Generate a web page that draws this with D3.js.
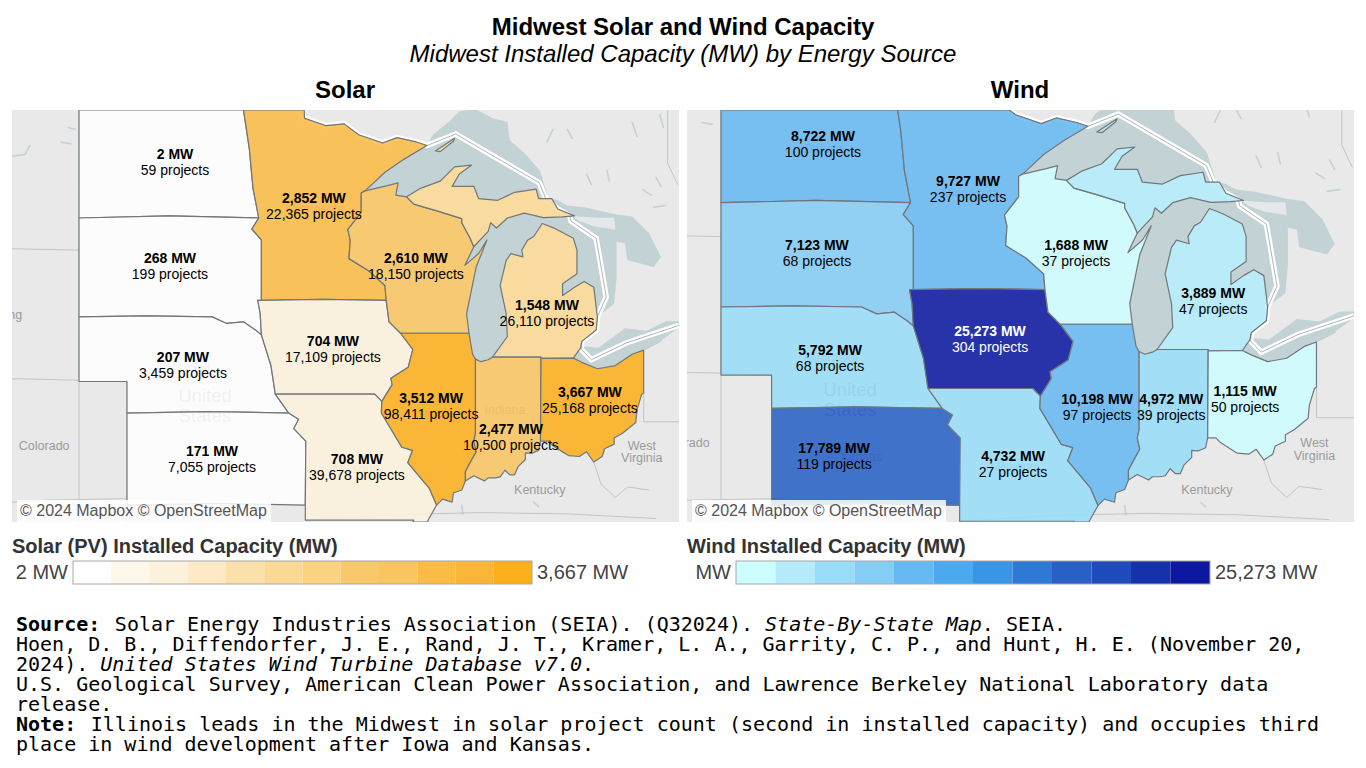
<!DOCTYPE html>
<html>
<head>
<meta charset="utf-8">
<script src="https://cdn.jsdelivr.net/npm/d3@7"></script>
<style>
  html, body { margin: 0; padding: 0; background: #fff; }
  svg { display: block; }
  text { font-family: "Liberation Sans", Arial, sans-serif; }
</style>
</head>
<body>
<svg id="chart" width="1366" height="768"></svg>
<script>
// values
const stateNames = ["North Dakota", "South Dakota", "Nebraska", "Kansas", "Minnesota", "Iowa", "Missouri", "Wisconsin", "Illinois", "Michigan", "Indiana", "Ohio"];
const solarMW = [2, 268, 207, 171, 2852, 704, 708, 2610, 3512, 1548, 2477, 3667];
const solarProjects = [59, 199, 3459, 7055, 22365, 17109, 39678, 18150, 98411, 26110, 10500, 25168];
const windMW = [8722, 7123, 5792, 17789, 9727, 25273, 4732, 1688, 10198, 3889, 4972, 1115];
const windProjects = [100, 68, 68, 119, 237, 304, 27, 37, 97, 47, 39, 50];

const solarColors = ["#ffffff", "#fdf8ea", "#fcf2dc", "#fde9c6", "#fce0aa", "#fbd995", "#fbd27f", "#f9c76c", "#f9c462", "#fbbb45", "#fbb638", "#fdaf1b"];
const windColors = ["#cdfdfe", "#b3ebfb", "#98dcf8", "#84cdf5", "#66b9f2", "#4ca8ef", "#3a95e5", "#2e79d4", "#2860c5", "#1f4cbd", "#1632ab", "#0c18a0"];

// label anchors, lon/lat, same order as stateNames
const solarLabelAt = [[-100.05,47.55],[-100.26,44.52],[-99.72,41.51],[-98.51,38.53],[-94.26,46.29],[-93.47,42.0],[-92.47,38.27],[-90.01,44.52],[-89.38,40.21],[-84.55,43.12],[-86.05,39.24],[-82.76,40.40]];
const windLabelAt = [[-100.02,47.54],[-100.26,44.55],[-99.74,41.51],[-99.58,38.55],[-94.29,46.32],[-93.42,42.07],[-92.51,38.30],[-90.02,44.55],[-89.19,40.05],[-84.60,43.16],[-86.26,40.05],[-83.34,40.29]];

// state outlines, lon/lat
const northDakota = [[-104.05,49.4],[-97.22,49.4],[-97.2,49],[-96.95,47.9],[-96.8,46.8],[-96.56,45.94],[-104.05,45.94]];
const southDakota = [[-104.05,45.94],[-96.56,45.94],[-96.85,45.62],[-96.45,45.3],[-96.45,43.5],[-96.6,43.5],[-96.5,43.1],[-96.45,42.45],[-96.7,42.6],[-97.2,42.85],[-97.9,42.8],[-98.5,43],[-104.05,43]];
const nebraska = [[-104.05,43],[-98.5,43],[-97.9,42.8],[-97.2,42.85],[-96.7,42.6],[-96.45,42.45],[-96.05,41.5],[-95.87,40.6],[-95.31,40],[-102.05,40],[-102.05,41],[-104.05,41]];
const kansas = [[-102.05,40],[-95.31,40],[-94.9,39.8],[-95.1,39.5],[-94.6,39.1],[-94.62,37],[-102.05,37]];
const minnesota = [[-97.22,49.4],[-94.7,49.4],[-94.65,48.75],[-93.75,48.55],[-93.0,48.6],[-92.4,48.3],[-91.4,48.07],[-90.8,48.22],[-90,48.1],[-89.55,48.0],[-90.5,47.62],[-91.3,47.25],[-92.13,46.72],[-92.29,46.66],[-92.29,46.1],[-92.85,45.6],[-92.75,45.3],[-92.8,44.75],[-92,44.4],[-91.3,43.95],[-91.25,43.5],[-96.45,43.5],[-96.45,45.3],[-96.85,45.62],[-96.56,45.94],[-96.8,46.8],[-96.95,47.9],[-97.2,49]];
const iowa = [[-96.6,43.5],[-91.25,43.5],[-91.13,42.85],[-90.65,42.5],[-90.14,42.0],[-90.33,41.45],[-91.05,41.1],[-91.0,40.9],[-91.43,40.37],[-91.73,40.6],[-95.87,40.6],[-96.05,41.5],[-96.45,42.45],[-96.5,43.1]];
const missouri = [[-95.87,40.6],[-91.73,40.6],[-91.43,40.37],[-91.45,40.0],[-90.6,38.9],[-90.15,38.8],[-90.35,38.4],[-89.45,37.55],[-89.15,37.0],[-89.5,36.5],[-89.7,36],[-90.37,36],[-90.1,36.5],[-94.62,36.5],[-94.62,37],[-94.6,39.1],[-95.1,39.5],[-94.9,39.8],[-95.31,40]];
const wisconsin = [[-92.13,46.72],[-91.2,46.87],[-90.75,46.95],[-90.85,46.6],[-90.4,46.55],[-90.1,46.34],[-89.1,46.14],[-88.1,45.92],[-88.1,45.8],[-87.75,45.35],[-87.6,45.1],[-87.97,44.55],[-87.4,44.9],[-87.05,45.3],[-87.5,44.5],[-87.7,43.8],[-87.9,43.1],[-87.8,42.5],[-90.65,42.5],[-91.13,42.85],[-91.25,43.5],[-91.3,43.95],[-92,44.4],[-92.8,44.75],[-92.75,45.3],[-92.85,45.6],[-92.29,46.1],[-92.29,46.66]];
const illinois = [[-90.65,42.5],[-87.8,42.5],[-87.65,41.85],[-87.53,41.7],[-87.53,39.35],[-87.6,39.1],[-87.5,38.75],[-87.75,38.4],[-87.95,38.1],[-87.95,37.8],[-88.1,37.5],[-88.45,37.4],[-88.5,37.1],[-88.9,37.2],[-89.15,37.0],[-89.45,37.55],[-90.35,38.4],[-90.15,38.8],[-90.6,38.9],[-91.45,40.0],[-91.43,40.37],[-91.0,40.9],[-91.05,41.1],[-90.33,41.45],[-90.14,42.0]];
const indiana = [[-87.53,41.7],[-87.3,41.62],[-87.0,41.68],[-86.82,41.76],[-84.8,41.76],[-84.82,39.1],[-84.9,38.8],[-85.2,38.7],[-85.45,38.72],[-85.45,38.5],[-85.75,38.27],[-85.9,38.0],[-86.1,38.0],[-86.3,38.15],[-86.5,37.93],[-86.7,37.9],[-87.0,37.9],[-87.15,37.8],[-87.6,37.97],[-87.95,37.8],[-87.95,38.1],[-87.75,38.4],[-87.5,38.75],[-87.6,39.1],[-87.53,39.35]];
const ohio = [[-84.8,41.72],[-83.45,41.73],[-83.1,41.6],[-82.45,41.4],[-81.7,41.5],[-81.0,41.85],[-80.52,41.98],[-80.52,40.64],[-80.6,40.6],[-80.8,40.1],[-80.85,39.7],[-81.4,39.35],[-81.75,39.2],[-81.75,39.0],[-82.15,38.85],[-82.25,38.6],[-82.6,38.42],[-82.9,38.75],[-83.2,38.6],[-83.65,38.63],[-83.9,38.75],[-84.3,38.95],[-84.5,39.1],[-84.82,39.1]];
const michiganLower = [[-86.82,41.76],[-84.8,41.76],[-84.8,41.72],[-83.45,41.73],[-83.15,42.05],[-83.1,42.25],[-82.5,42.6],[-82.45,43.0],[-82.6,43.9],[-83.0,44.07],[-83.4,43.9],[-83.9,43.65],[-83.9,44.0],[-83.3,44.3],[-83.3,45.0],[-83.45,45.35],[-84.2,45.63],[-84.75,45.78],[-85.1,45.4],[-85.35,45.3],[-85.6,45.0],[-85.55,44.8],[-86.05,44.9],[-86.25,44.7],[-86.5,43.95],[-86.25,43.1],[-86.2,42.4]];
const michiganUpper = [[-90.4,46.55],[-89.8,46.8],[-89.0,47.0],[-88.4,47.4],[-87.7,47.45],[-88.2,47.2],[-88.5,46.85],[-87.6,46.85],[-87.4,46.5],[-86.6,46.45],[-85.9,46.68],[-85.0,46.77],[-84.9,46.5],[-84.35,46.5],[-84.1,46.2],[-83.4,46.0],[-83.9,45.97],[-84.7,45.95],[-85.5,46.08],[-86.2,45.94],[-86.65,45.65],[-86.9,45.8],[-87.0,45.55],[-87.6,45.1],[-87.75,45.35],[-88.1,45.8],[-88.1,45.92],[-89.1,46.14],[-90.1,46.34]];
const isleRoyale = [[-89.2,47.85],[-88.4,48.2],[-88.45,48.12],[-89.0,47.83]];
const stateRings = [[northDakota],[southDakota],[nebraska],[kansas],[minnesota],[iowa],[missouri],[wisconsin],[illinois],[michiganLower,michiganUpper,isleRoyale],[indiana],[ohio]];

// lakes under the states, they follow the shores above
const lakeSuperior = [[-92.13,46.72],[-91.3,47.25],[-90.5,47.62],[-89.55,48.0],[-89.3,48.3],[-88.6,48.68],[-88.2,48.95],[-87.5,49.0],[-86.8,48.75],[-86.2,48.66],[-86.1,48.15],[-85.5,47.8],[-84.85,47.3],[-84.55,46.65],[-84.5,46.48],[-84.9,46.5],[-85,46.77],[-85.9,46.68],[-86.6,46.45],[-87.4,46.5],[-87.6,46.85],[-88.5,46.85],[-88.2,47.2],[-87.7,47.45],[-88.4,47.4],[-89,47],[-89.8,46.8],[-90.4,46.55],[-90.85,46.6],[-90.75,46.95],[-91.2,46.87]];
const lakeMichigan = [[-87.75,45.35],[-87.6,45.1],[-87.97,44.55],[-87.4,44.9],[-87.05,45.3],[-87.5,44.5],[-87.7,43.8],[-87.9,43.1],[-87.8,42.5],[-87.65,41.85],[-87.53,41.7],[-87.3,41.62],[-87.0,41.68],[-86.82,41.76],[-86.2,42.4],[-86.25,43.1],[-86.5,43.95],[-86.25,44.7],[-86.05,44.9],[-85.55,44.8],[-85.6,45.0],[-85.35,45.3],[-85.1,45.4],[-84.75,45.78],[-84.7,45.95],[-85.5,46.08],[-86.2,45.94],[-86.65,45.65],[-86.9,45.8],[-87.0,45.55],[-87.6,45.1],[-88.1,45.8]];
const lakeHuron = [[-84.75,45.78],[-84.2,45.63],[-83.45,45.35],[-83.3,45.0],[-83.3,44.3],[-83.9,44.0],[-83.9,43.65],[-83.4,43.9],[-83.0,44.07],[-82.6,43.9],[-82.45,43.0],[-81.75,43.4],[-81.65,44.18],[-81.65,45.25],[-81.3,45.2],[-81.2,44.7],[-80.1,44.5],[-79.8,44.8],[-80.3,45.5],[-81,45.98],[-81.7,46.05],[-83,46.25],[-83.7,46.3],[-84.1,46.45],[-84.35,46.5],[-84.1,46.2],[-83.4,46.0],[-83.9,45.97],[-84.7,45.95]];
const lakeErie = [[-83.45,41.73],[-83.1,41.6],[-82.45,41.4],[-81.7,41.5],[-81.0,41.85],[-80.52,41.98],[-79.8,42.27],[-79,42.7],[-78.9,42.87],[-79.6,42.87],[-80.4,42.58],[-81.3,42.65],[-82.4,42.05],[-83.1,42.1]];
const manitoulin = [[-83.5,46.0],[-82.5,45.95],[-81.75,45.95],[-81.7,45.6],[-82.6,45.7],[-83.2,45.85]];
const smallWaters = [
  [[-106.9,47.7],[-106.3,47.75],[-106.1,48.0]],
  [[-104.5,48.5],[-104.2,48.45]],
  [[-104.8,48.1],[-104.4,48.05]],
  [[-84.3,48.45],[-84.55,48.1]],
  [[-81,48.65],[-80.8,48.25]],
  [[-82.05,47.3],[-81.95,47.0]],
  [[-80.55,46.75],[-80.2,46.6]],
  [[-79.85,48.85],[-79.7,48.5]],
  [[-82.9,47.2],[-82.7,46.9]],
  [[-80,47.1],[-79.8,46.85]],
  [[-83.7,48.45],[-83.5,48.2]],
  [[-80.1,46.25],[-79.6,46.3]],
  [[-88.05,36.7],[-88.1,37.0]],
  [[-85.1,37.1],[-84.9,36.95]]
];

// faint base map lines and names
const borderLine = [[-95.15,49.38],[-94.65,48.75],[-93.75,48.55],[-93,48.6],[-92.4,48.3],[-91.4,48.07],[-90.8,48.22],[-90,48.1],[-89.55,48.0],[-88.35,48.32],[-84.87,46.95],[-84.6,46.5],[-84.1,46.2],[-83.6,46.0],[-83.55,45.85],[-82.5,45.35],[-82.08,43.6],[-82.45,43.0],[-82.5,42.6],[-83.1,42.25],[-83.12,42.0],[-82.7,41.68],[-81.25,42.2],[-79.0,42.75]];
const neighborLines = [
  [[-111,45],[-104.05,45]],
  [[-104.05,49.4],[-104.05,36]],
  [[-111,41],[-102.05,41]],
  [[-102.05,41],[-102.05,36]],
  [[-109,37],[-94.62,37]],
  [[-94.62,36.5],[-80,36.55]],
  [[-79.52,49.4],[-79.52,47.5],[-79.1,46.9]],
  [[-80.52,40.64],[-80.52,39.72],[-79,39.72]],
  [[-80.52,41.98],[-79.76,42.27]],
  [[-82.6,38.42],[-82.3,37.7],[-81.7,37.25],[-81.2,37.6],[-80.3,37.5]]
];
const baseNames = ["Wyoming", "Colorado", "West", "Virginia", "Kentucky", "Minnesota", "Wisconsin", "Michigan", "Iowa", "Illinois", "Indiana", "Ohio", "Nebraska", "Kansas", "Missouri", "Dakota"];
const baseNameAt = [[-107.5,43.05],[-105.5,38.95],[-80.6,38.95],[-80.6,38.55],[-84.85,37.5],[-94.2,46.2],[-90,44.45],[-84.6,42.95],[-93.4,42.05],[-89.2,40.0],[-86.3,40.1],[-82.9,40.4],[-99.7,41.5],[-98.5,38.5],[-92.5,38.2],[-100,47.4]];

const titleText = "Midwest Solar and Wind Capacity";
const subtitleText = "Midwest Installed Capacity (MW) by Energy Source";
const footerLines = [
  [["b", "Source:"], ["n", " Solar Energy Industries Association (SEIA). (Q32024). "], ["i", "State-By-State Map"], ["n", ". SEIA."]],
  [["n", "Hoen, D. B., Diffendorfer, J. E., Rand, J. T., Kramer, L. A., Garrity, C. P., and Hunt, H. E. (November 20,"]],
  [["n", "2024). "], ["i", "United States Wind Turbine Database v7.0"], ["n", "."]],
  [["n", "U.S. Geological Survey, American Clean Power Association, and Lawrence Berkeley National Laboratory data"]],
  [["n", "release."]],
  [["b", "Note:"], ["n", " Illinois leads in the Midwest in solar project count (second in installed capacity) and occupies third"]],
  [["n", "place in wind development after Iowa and Kansas."]]
];

const svg = d3.select("#chart");
const fmt = d3.format(",");

// d3 wants clockwise, closed rings
function ring(pts) {
  const closed = pts.concat([pts[0]]);
  return d3.geoArea({ type: "Polygon", coordinates: [closed] }) > 2 * Math.PI ? closed.slice().reverse() : closed;
}
const poly = pts => ({ type: "Polygon", coordinates: [ring(pts)] });

svg.append("text").attr("x", 683).attr("y", 35).attr("text-anchor", "middle")
  .attr("font-size", 24).attr("font-weight", "bold").text(titleText);
svg.append("text").attr("x", 683).attr("y", 62).attr("text-anchor", "middle")
  .attr("font-size", 24).attr("font-style", "italic").text(subtitleText);

function drawMap(opt) {
  const x0 = opt.box[0], y0 = opt.box[1], w = opt.box[2], h = opt.box[3];
  const projection = d3.geoMercator()
    .scale(opt.scale)
    .center([-104.05, 45.94])
    .translate(opt.origin)
    .clipExtent([[x0, y0], [x0 + w, y0 + h]]);
  const path = d3.geoPath(projection);

  svg.append("text").attr("x", opt.headX).attr("y", 98).attr("text-anchor", "middle")
    .attr("font-size", 24).attr("font-weight", "bold").text(opt.name);

  const clipId = "clip-" + opt.name;
  svg.append("clipPath").attr("id", clipId).append("rect")
    .attr("x", x0).attr("y", y0).attr("width", w).attr("height", h);

  const g = svg.append("g").attr("clip-path", `url(#${clipId})`);
  g.append("rect").attr("x", x0).attr("y", y0).attr("width", w).attr("height", h).attr("fill", "#e9e9e9");

  // water
  g.selectAll("path.lake").data([lakeSuperior, lakeMichigan, lakeHuron, lakeErie]).join("path")
    .attr("class", "lake").attr("d", d => path(poly(d))).attr("fill", "#c3d2d4");
  g.append("path").attr("d", path(poly(manitoulin))).attr("fill", "#e4e8e8");
  g.selectAll("path.water").data(smallWaters).join("path")
    .attr("class", "water")
    .attr("d", d => path({ type: "LineString", coordinates: d }))
    .attr("fill", "none").attr("stroke", "#c3d2d4").attr("stroke-width", 1.6).attr("stroke-linecap", "round");

  // neighbours
  g.selectAll("path.near").data(neighborLines).join("path")
    .attr("class", "near")
    .attr("d", d => path({ type: "LineString", coordinates: d }))
    .attr("fill", "none").attr("stroke", "#c4c4c4").attr("stroke-width", 1);

  // country border in the lakes
  const border = { type: "LineString", coordinates: borderLine };
  g.append("path").attr("d", path(border)).attr("fill", "none").attr("stroke", "#fff").attr("stroke-width", 5.5);
  g.append("path").attr("d", path(border)).attr("fill", "none").attr("stroke", "#b4b4b4").attr("stroke-width", 1);

  // base map names, the state fills let them show a little
  g.selectAll("text.base").data(baseNames).join("text")
    .attr("class", "base")
    .attr("transform", (d, i) => `translate(${projection(baseNameAt[i])})`)
    .attr("text-anchor", "middle").attr("dy", 4)
    .attr("font-family", "Open Sans").attr("font-size", 12.5).attr("fill", "#9a9a9a").text(d => d);
  g.selectAll("text.country").data(["United", "States"]).join("text")
    .attr("class", "country")
    .attr("transform", (d, i) => `translate(${projection(opt.countryAt[i])})`)
    .attr("text-anchor", "middle").attr("font-family", "Open Sans").attr("font-size", 18.5)
    .attr("fill", "#8f8f8f").text(d => d);

  const color = d3.scaleQuantize().domain([opt.low, d3.max(opt.mw)]).range(opt.colors);

  const states = stateNames.map((name, i) => ({
    name,
    mw: opt.mw[i],
    projects: opt.projects[i],
    at: opt.labelAt[i],
    geo: { type: "MultiPolygon", coordinates: stateRings[i].map(r => [ring(r)]) }
  }));

  g.selectAll("path.state").data(states).join("path")
    .attr("class", "state")
    .attr("d", d => path(d.geo))
    .attr("fill", d => color(d.mw))
    .attr("fill-opacity", 0.87)
    .attr("stroke", "#70777b")
    .attr("stroke-width", 1.2)
    .attr("stroke-linejoin", "round");

  const labels = g.selectAll("g.label").data(states).join("g")
    .attr("class", "label")
    .attr("transform", d => `translate(${projection(d.at)})`)
    .attr("text-anchor", "middle")
    .attr("fill", d => d3.lab(color(d.mw)).l < 35 ? "#fff" : "#000");
  labels.append("text").attr("y", -3).attr("font-size", 14).attr("font-weight", "bold").attr("fill", "inherit")
    .text(d => fmt(d.mw) + " MW");
  labels.append("text").attr("y", 13).attr("font-size", 14).attr("fill", "inherit")
    .text(d => fmt(d.projects) + " projects");

  // attribution
  g.append("rect").attr("x", x0 + 5).attr("y", y0 + h - 22).attr("width", 254).attr("height", 22)
    .attr("fill", "#fff").attr("fill-opacity", 0.85);
  g.append("text").attr("x", x0 + 8).attr("y", y0 + h - 6).attr("font-size", 16).attr("fill", "#555")
    .text("© 2024 Mapbox © OpenStreetMap");

  // legend
  svg.append("text").attr("x", x0).attr("y", 553).attr("font-size", 20).attr("font-weight", "bold")
    .attr("fill", "#333").text(opt.legendTitle);
  const band = d3.scaleBand().domain(d3.range(opt.colors.length)).range(opt.barX);
  svg.append("g").selectAll("rect").data(opt.colors).join("rect")
    .attr("x", (d, i) => band(i)).attr("y", 561).attr("width", band.bandwidth()).attr("height", 23)
    .attr("fill", d => d);
  svg.append("rect").attr("x", opt.barX[0]).attr("y", 561).attr("width", opt.barX[1] - opt.barX[0]).attr("height", 23)
    .attr("fill", "none").attr("stroke", "#a8a8a8").attr("stroke-width", 1);
  svg.append("text").attr("x", opt.barX[0] - 5).attr("y", 579).attr("text-anchor", "end")
    .attr("font-size", 20).attr("fill", "#444").text(opt.lowLabel);
  svg.append("text").attr("x", opt.barX[1] + 5).attr("y", 579)
    .attr("font-size", 20).attr("fill", "#444").text(opt.highLabel);
}

drawMap({
  name: "Solar", headX: 345, box: [12, 110, 667, 412], scale: 1375, origin: [79, 218], low: 2,
  mw: solarMW, projects: solarProjects, colors: solarColors, labelAt: solarLabelAt,
  countryAt: [[-98.8,40.34],[-98.8,39.72]],
  legendTitle: "Solar (PV) Installed Capacity (MW)", barX: [73, 532], lowLabel: "2 MW", highLabel: "3,667 MW"
});
drawMap({
  name: "Wind", headX: 1020, box: [687, 110, 667, 412], scale: 1450, origin: [721, 202.7], low: 0,
  mw: windMW, projects: windProjects, colors: windColors, labelAt: windLabelAt,
  countryAt: [[-98.95,40.38],[-98.95,39.78]],
  legendTitle: "Wind Installed Capacity (MW)", barX: [736, 1210], lowLabel: "MW", highLabel: "25,273 MW"
});

// footer
const foot = svg.append("text").attr("font-size", 20).attr("xml:space", "preserve");
footerLines.forEach((runs, i) => {
  runs.forEach((run, j) => {
    const t = foot.append("tspan")
      .style("font-family", "'DejaVu Sans Mono', monospace")
      .style("white-space", "pre")
      .attr("fill", "#000")
      .attr("font-weight", run[0] === "b" ? "bold" : "normal")
      .attr("font-style", run[0] === "i" ? "italic" : "normal")
      .text(run[1]);
    if (j === 0) t.attr("x", 16).attr("y", 631 + i * 20);
    if (j === 1 && runs[0][0] === "b") t.attr("dx", 2.5);
  });
});
</script>
</body>
</html>
